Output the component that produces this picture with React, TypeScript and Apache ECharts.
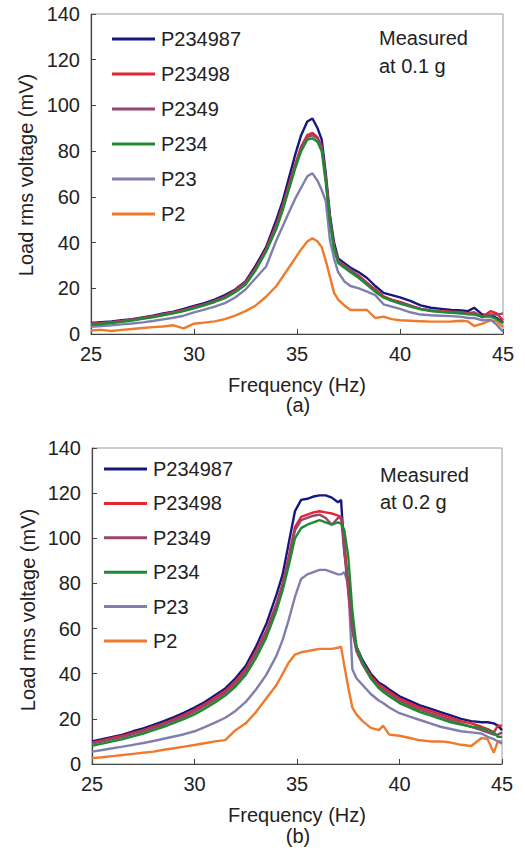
import React, { useEffect, useRef } from "react";
import * as echarts from "echarts";

// ---------- Data ----------
const seriesNames = ["P234987", "P23498", "P2349", "P234", "P23", "P2"];
const seriesColors = ["#15187e", "#e52530", "#96466f", "#1f8a2f", "#7f7fae", "#f07a2c"];

const xTicks = [25, 30, 35, 40, 45];
const yTicks = [0, 20, 40, 60, 80, 100, 120, 140];

// (a) measured at 0.1 g
const freqA = [
  25, 25.5, 26, 26.5, 27, 27.5, 28, 28.5, 29, 29.5, 30, 30.5, 31, 31.5, 32, 32.5, 33, 33.5, 34,
  34.3, 34.6, 34.9, 35.2, 35.5, 35.75, 36, 36.2, 36.4, 36.6, 36.8, 37,
  37.3, 37.6, 38, 38.4, 38.8, 39.2, 39.6, 40,
  40.5, 41, 41.5, 42, 42.5, 43,
  43.3, 43.6, 44, 44.4, 44.7, 45,
];
const a_P234987 = [
  4.8, 5.2, 5.5, 6, 6.5, 7.3, 8, 9, 9.8, 11, 12.3, 13.5, 15, 17, 19.5, 23, 30, 38, 50,
  58, 68, 78, 87, 93, 94.3, 90, 85, 70, 52, 40, 33,
  31, 29, 27, 24.5, 21, 18, 17, 16,
  14.5, 12.5, 11.5, 11, 10.5, 10.3,
  10, 11.5, 8.5, 8.3, 7, 5,
];
const a_P23498 = [
  4.5, 4.8, 5.2, 5.7, 6.3, 7, 7.8, 8.7, 9.5, 10.5, 11.8, 13, 14.5, 16.3, 19, 22.5, 29, 37, 48,
  56, 65, 74, 82, 87, 88, 86, 82, 68, 50, 38, 32,
  30, 28, 25.5, 22.5, 19.5, 16.5, 15, 14,
  12.5, 11, 10.3, 10, 9.8, 9.5,
  9, 9.5, 7.5, 10, 9, 6,
];
const a_P2349 = [
  4.3, 4.7, 5.1, 5.6, 6.2, 6.9, 7.6, 8.5, 9.3, 10.3, 11.5, 12.8, 14.3, 16, 18.7, 22, 28.5, 36.5, 47,
  55, 64, 73, 81, 86, 87, 85.5, 81.5, 68, 50, 38, 32,
  30, 28, 25, 22, 19, 16, 14.8, 13.8,
  12.3, 11, 10.2, 9.8, 9.5, 9.2,
  8.8, 9, 7.3, 8.5, 8.5, 9,
];
const a_P234 = [
  4, 4.4, 4.8, 5.3, 5.9, 6.6, 7.3, 8.2, 9, 10, 11.2, 12.5, 14, 15.7, 18.3, 21.5, 28, 36, 46,
  54, 63, 72, 80, 85, 85.6, 84, 80, 66, 49, 37, 31,
  29, 27, 24.5, 21.5, 18.5, 16, 14.5, 13.3,
  12, 10.8, 10, 9.6, 9.3, 9,
  8.6, 8.5, 7.6, 7.6, 6.5, 4.7,
];
const a_P23 = [
  3.2, 3.5, 3.8, 4.2, 4.6, 5.1, 5.7, 6.4, 7.1, 8, 9.5, 10.7, 12, 13.5, 16, 19.5, 24.5, 29.5, 41,
  47, 53, 59, 64, 69, 70.3, 67, 63, 58, 41, 33, 27,
  23, 21, 20, 18.5, 17, 13, 12, 11,
  9.5, 8.5, 8.2, 8, 7.8, 7.5,
  7, 7, 6, 6.3, 4, 1,
];
const a_P2 = [
  1.5, 1.8, 1.3, 1.8, 2.2, 2.6, 3, 3.3, 3.8, 2.5, 4.5, 5, 5.5, 6.5, 8, 10, 12.5, 16.3, 21,
  25, 29, 33, 37, 40.5, 41.9, 40.5, 38, 32, 25, 18, 15,
  12.5, 10.5, 10.5, 10.5, 7, 7.6, 6.5, 6,
  5.8, 5.6, 5.4, 5.4, 5.5, 5.8,
  5.5, 3.5, 4.5, 6, 5.5, 3,
];

// (b) measured at 0.2 g
const freqB = [
  25, 25.5, 26, 26.5, 27, 27.5, 28, 28.5, 29, 29.5, 30, 30.5, 31, 31.5, 32, 32.5, 33, 33.5, 34,
  34.3, 34.6, 34.9, 35.2, 35.5, 35.8, 36.1, 36.4, 36.7, 37.0,
  37.15, 37.3, 37.5, 37.7, 37.9, 38.2, 38.6, 39, 39.2, 39.5, 40,
  40.5, 41, 41.5, 42, 42.5, 43, 43.5, 44,
  44.3, 44.6, 44.8, 45,
];
const b_P234987 = [
  10, 11, 12, 13, 14.5, 15.8, 17.3, 19, 20.8, 22.8, 25, 27.5, 30.5, 33.5, 38, 43.5, 52, 62, 75,
  84, 98, 112, 117, 117.5, 118.5, 119, 119, 118, 116,
  117, 95, 80, 60, 52, 46, 40, 36, 35, 33, 30,
  28, 26, 24.5, 23, 21.5, 20, 19, 18.5,
  18.5, 18, 17, 15,
];
const b_P23498 = [
  9.5, 10.5, 11.5, 12.5, 13.8, 15, 16.5, 18, 19.8, 21.8, 24, 26.5, 29.3, 32.3, 36.5, 42, 50, 59, 71,
  80, 92, 105, 109.5, 110.5, 111.5, 112, 111.5, 111, 110,
  109.5, 100, 78, 60, 51, 45, 39, 35, 34, 32, 29,
  27, 25, 23.5, 22, 20.5, 19, 18, 16.5,
  15.5, 14, 17, 17,
];
const b_P2349 = [
  9, 10, 11, 12, 13.2, 14.5, 16, 17.5, 19.2, 21, 23.2, 25.7, 28.5, 31.5, 35.5, 41, 49, 58, 70,
  79, 91, 103.5, 108, 109, 110, 110.5, 109, 106, 109,
  109, 95, 76, 59, 50, 44, 38, 34, 33, 31, 28,
  26, 24, 22.5, 21, 19.5, 18, 16.5, 15,
  14, 13, 13, 14,
];
const b_P234 = [
  8, 9, 10, 11, 12.2, 13.5, 15, 16.5, 18.2, 20, 22, 24.5, 27.3, 30.3, 34.3, 39.5, 47, 56, 68,
  77, 88, 100, 104.5, 106, 107, 108, 107, 106, 107,
  106.5, 104, 92, 68, 52, 45, 38, 33.5, 32, 30, 27,
  25, 23, 21.5, 20, 18.5, 17.5, 16.5, 16,
  15, 14, 12, 12,
];
const b_P23 = [
  5.5, 6.2, 7, 7.7, 8.5, 9.3, 10.2, 11.2, 12.2, 13.2, 14.5, 16.3, 18.3, 20.5, 23.5, 27.5, 33, 39.5, 48,
  55, 64, 74, 82, 84, 85, 86, 86, 85, 84,
  84, 85, 80, 42, 38, 35, 31, 28, 27, 25, 22.5,
  21, 19.5, 18, 16.5, 15.5, 14.5, 14, 13.5,
  12, 11, 10, 9,
];
const b_P2 = [
  2.6, 3, 3.5, 4, 4.5, 5, 5.5, 6.3, 7, 7.7, 8.4, 9.2, 10, 10.6, 15, 18, 23, 29, 35,
  40, 45, 48.5, 49.5, 50, 50.5, 51, 51, 51, 51.5,
  52, 44, 34, 25, 22, 19, 16, 15, 17, 13, 12.5,
  11.5, 10.5, 10, 10, 9.5, 8.5, 8, 11.5,
  11, 5, 10, 10,
];

const valuesA = [a_P234987, a_P23498, a_P2349, a_P234, a_P23, a_P2];
const valuesB = [b_P234987, b_P23498, b_P2349, b_P234, b_P23, b_P2];

const FONT = '"Liberation Sans", Arial, sans-serif';
const TXT = "#222";

function zip(xs: number[], ys: number[]) {
  return xs.map((x, i) => [x, ys[i]]);
}

export default function App() {
  const ref = useRef<HTMLDivElement>(null);

  useEffect(() => {
    if (!ref.current) return;
    const chart = echarts.init(ref.current, null, { renderer: "svg" });

    const grids = [
      { left: 91, top: 14, width: 412, height: 320 },
      { left: 92, top: 448, width: 410, height: 316 },
    ].map((g) => ({ ...g, show: true, borderColor: "#9a9a9a", borderWidth: 1 }));

    const mkX = (gi: number) => ({
      type: "value",
      gridIndex: gi,
      min: xTicks[0],
      max: xTicks[xTicks.length - 1],
      interval: xTicks[1] - xTicks[0],
      axisLine: { show: true, onZero: false, lineStyle: { color: "#444", width: 1.2 } },
      axisTick: { show: true, inside: true, length: 5, lineStyle: { color: "#444" } },
      splitLine: { show: false },
      axisLabel: { fontSize: 20, fontFamily: FONT, color: TXT, margin: 10 },
    });
    const mkY = (gi: number) => ({
      type: "value",
      gridIndex: gi,
      min: yTicks[0],
      max: yTicks[yTicks.length - 1],
      interval: yTicks[1] - yTicks[0],
      axisLine: { show: true, lineStyle: { color: "#444", width: 1.2 } },
      axisTick: { show: true, inside: true, length: 5, lineStyle: { color: "#444" } },
      splitLine: { show: false },
      axisLabel: { fontSize: 20, fontFamily: FONT, color: TXT, margin: 11 },
    });

    // drawing order: P2, P23, P234987, P23498, P2349, P234 (green on top)
    const drawOrder = [5, 4, 0, 1, 2, 3];
    const series: any[] = [];
    [freqA, freqB].forEach((freq, gi) => {
      const vals = gi === 0 ? valuesA : valuesB;
      drawOrder.forEach((si) => {
        series.push({
          type: "line",
          name: seriesNames[si],
          xAxisIndex: gi,
          yAxisIndex: gi,
          data: zip(freq, vals[si]),
          showSymbol: false,
          symbol: "none",
          color: seriesColors[si],
          lineStyle: { width: 2.4, color: seriesColors[si] },
          z: 2,
        });
      });
    });

    const mkLegend = (left: number, top: number, gap: number) => ({
      show: true,
      orient: "vertical",
      left,
      top,
      padding: 0,
      itemGap: gap,
      itemWidth: 43,
      itemHeight: 3,
      icon: "rect",
      selectedMode: false,
      data: seriesNames,
      textStyle: { fontSize: 20, fontFamily: FONT, color: TXT, lineHeight: 20, padding: [0, 0, 0, 1] },
    });

    const txt = (text: string, x: number, y: number, extra: any = {}) => ({
      type: "text",
      x,
      y,
      ...extra,
      style: {
        text,
        font: `20px ${FONT}`,
        fill: TXT,
        textAlign: extra.align || "center",
        textVerticalAlign: "middle",
      },
    });

    chart.setOption({
      animation: false,
      backgroundColor: "#fff",
      grid: grids,
      xAxis: [mkX(0), mkX(1)],
      yAxis: [mkY(0), mkY(1)],
      legend: [mkLegend(112, 29, 15), mkLegend(104, 459, 14.4)],
      series,
      graphic: [
        txt("Load rms voltage (mV)", 26, 175, { rotation: Math.PI / 2 }),
        txt("Frequency (Hz)", 297, 385),
        txt("(a)", 298, 405),
        txt("Measured", 379, 38, { align: "left" }),
        txt("at 0.1 g", 379, 66, { align: "left" }),
        txt("Load rms voltage (mV)", 28, 610, { rotation: Math.PI / 2 }),
        txt("Frequency (Hz)", 297, 815),
        txt("(b)", 298, 836),
        txt("Measured", 380, 475, { align: "left" }),
        txt("at 0.2 g", 380, 502, { align: "left" }),
      ],
    });

    return () => chart.dispose();
  }, []);

  return (
    <div
      ref={ref}
      style={{ position: "absolute", left: 0, top: 0, width: 525, height: 858, background: "#fff" }}
    />
  );
}
